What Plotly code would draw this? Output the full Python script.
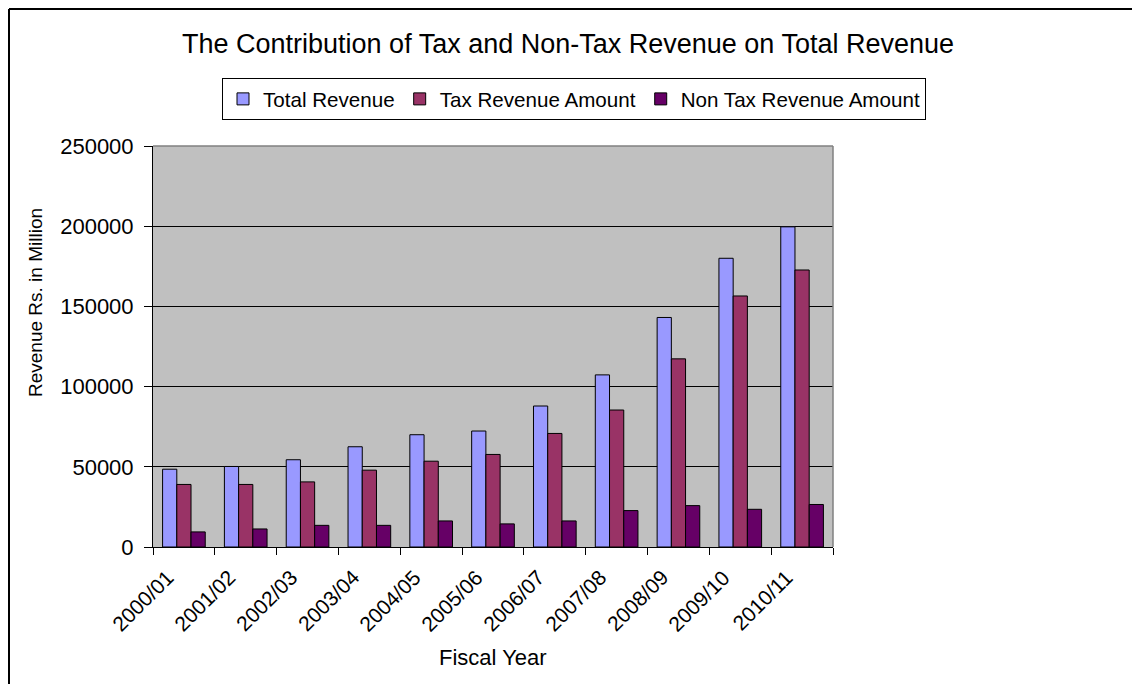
import plotly.graph_objects as go

years = ["2000/01", "2001/02", "2002/03", "2003/04", "2004/05", "2005/06",
         "2006/07", "2007/08", "2008/09", "2009/10", "2010/11"]
total_revenue = [48500, 50200, 54400, 62500, 70000, 72300, 87900, 107300, 143100, 180000, 199600]
tax_revenue = [39000, 39000, 40600, 47900, 53500, 57700, 70800, 85400, 117300, 156500, 172700]
non_tax_revenue = [9400, 11250, 13500, 13500, 16250, 14400, 16250, 22700, 25800, 23500, 26500]
y_ticks = [0, 50000, 100000, 150000, 200000, 250000]

FONT = "Liberation Sans, Arial, sans-serif"

W, H = 1140, 684
OFF = 8  # page body margin offset
L, T = 153 - OFF, 146 - OFF
pw, ph = 680, 401
R, B = W - L - pw, H - T - ph


def fx(p):  # figure pixel -> paper x
    return (p - L) / pw


def fy(p):  # figure pixel -> paper y
    return (H - B - p) / ph


def px_x(p):  # page pixel -> paper x
    return fx(p - OFF)


def px_y(p):  # page pixel -> paper y
    return fy(p - OFF)


fig = go.Figure()
for name, vals, col in [("Total Revenue", total_revenue, "#9999FF"),
                        ("Tax Revenue Amount", tax_revenue, "#993366"),
                        ("Non Tax Revenue Amount", non_tax_revenue, "#660066")]:
    fig.add_trace(go.Bar(x=years, y=vals, name=name,
                         marker=dict(color=col, line=dict(color="black", width=1))))

fig.update_layout(
    width=W, height=H,
    margin=dict(l=L, r=R, t=T, b=B, autoexpand=False),
    paper_bgcolor="white",
    plot_bgcolor="#C0C0C0",
    barmode="group", bargap=0.31, bargroupgap=0,
    font=dict(family=FONT, color="black"),
    title=dict(text="The Contribution of Tax and Non-Tax Revenue on Total Revenue",
               x=(568 - OFF) / W, xref="container", xanchor="center",
               y=1 - (44 - OFF) / H, yref="container", yanchor="middle",
               font=dict(size=27, family=FONT, color="black")),
    legend=dict(orientation="h", xref="paper", yref="paper",
                x=px_x(926), y=px_y(99),
                xanchor="right", yanchor="middle",
                bordercolor="black", borderwidth=1, bgcolor="white",
                font=dict(size=20.6, family=FONT, color="black"),
                itemclick=False),
    showlegend=True,
)

fig.update_xaxes(
    type="category", range=[-0.5, len(years) - 0.5], autorange=False,
    showline=True, linecolor="black", linewidth=1,
    ticks="outside", ticklen=7, tickcolor="black", tickson="boundaries",
    showticklabels=False, showgrid=False, automargin=False,
)
fig.update_yaxes(
    range=[0, 250000], tickvals=y_ticks, ticktext=[str(v) for v in y_ticks],
    showline=True, linecolor="black", linewidth=1,
    ticks="outside", ticklen=8, tickcolor="black",
    showgrid=True, gridcolor="black", gridwidth=1,
    zeroline=False, automargin=False,
    tickfont=dict(size=22, family=FONT, color="black"),
    ticklabelstandoff=6,
)

# category labels, rotated, placed on the category axis positions
for yr in years:
    fig.add_annotation(text=yr, xref="x", yref="paper", x=yr, y=px_y(563),
                       xanchor="right", yanchor="top", xshift=-3,
                       textangle=-45, showarrow=False,
                       font=dict(size=21, family=FONT, color="black"))

# plot area top / right border (gray)
fig.add_shape(type="line", xref="paper", yref="paper", x0=0, x1=1, y0=1, y1=1,
              line=dict(color="#808080", width=1.5), layer="above")
fig.add_shape(type="line", xref="paper", yref="paper", x0=1, x1=1, y0=0, y1=1,
              line=dict(color="#808080", width=1.5), layer="above")

# outer chart frame (left and top visible)
fig.add_shape(type="line", xref="paper", yref="paper",
              x0=fx(1), x1=fx(1), y0=fy(1), y1=fy(H + 20),
              line=dict(color="black", width=2))
fig.add_shape(type="line", xref="paper", yref="paper",
              x0=fx(1), x1=fx(W + 20), y0=fy(1), y1=fy(1),
              line=dict(color="black", width=2))

fig.add_annotation(text="Revenue Rs. in Million", xref="paper", yref="paper",
                   x=px_x(35), y=px_y(303), xanchor="center", yanchor="middle",
                   textangle=-90, showarrow=False,
                   font=dict(size=19, family=FONT, color="black"))
fig.add_annotation(text="Fiscal Year", xref="paper", yref="paper",
                   x=px_x(493), y=px_y(657), xanchor="center", yanchor="middle",
                   showarrow=False, font=dict(size=22, family=FONT, color="black"))

fig.write_html("out.html")
